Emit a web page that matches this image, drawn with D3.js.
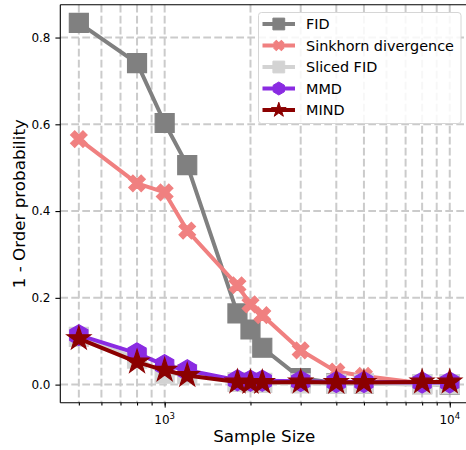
<!DOCTYPE html>
<html>
<head>
<meta charset="utf-8">
<script src="https://cdn.jsdelivr.net/npm/d3@7"></script>
<style>
  body { margin: 0; background: #fff; }
  svg { display: block; font-family: "DejaVu Sans", sans-serif; }
</style>
</head>
<body>
<svg id="chart" width="466" height="450"></svg>
<script>
const SAMPLE_SIZES = [500, 800, 1000, 1200, 1800, 2000, 2200, 3000, 4000, 5000, 8000, 10000];

const FID        = [0.834, 0.741, 0.603, 0.506, 0.164, 0.127, 0.085, 0.015, 0.003, 0.002, 0.001, 0.000];
const SINKHORN   = [0.566, 0.464, 0.443, 0.355, 0.229, 0.185, 0.160, 0.079, 0.030, 0.020, 0.003, 0.003];
const SLICED_FID = [0.110, 0.060, 0.025, 0.024, 0.006, 0.005, 0.004, 0.003, 0.002, 0.002, 0.001, 0.001];
const MMD        = [0.114, 0.072, 0.045, 0.033, 0.010, 0.009, 0.009, 0.008, 0.006, 0.006, 0.005, 0.005];
const MIND       = [0.106, 0.052, 0.033, 0.021, 0.006, 0.005, 0.005, 0.006, 0.005, 0.005, 0.006, 0.006];

const SERIES_NAMES = ['FID', 'Sinkhorn divergence', 'Sliced FID', 'MMD', 'MIND'];
const X_MAJOR_TICKS = [1000, 10000];
const X_MAJOR_LABELS = [3, 4];
const Y_TICKS = [0.0, 0.2, 0.4, 0.6, 0.8];

const SERIES = [
  { name: SERIES_NAMES[0], values: FID, color: '#808080', marker: 'square' },
  { name: SERIES_NAMES[1], values: SINKHORN, color: '#f08080', marker: 'x' },
  { name: SERIES_NAMES[2], values: SLICED_FID, color: '#d3d3d3', marker: 'square' },
  { name: SERIES_NAMES[3], values: MMD, color: '#8a2be2', marker: 'hexagon' },
  { name: SERIES_NAMES[4], values: MIND, color: '#8b0000', marker: 'star' },
];

const LEFT = 60.3, RIGHT = 468.3, TOP = 4.7, BOTTOM = 402.7;
const LINE_WIDTH = 4;
const GRID_COLOR = '#cbcbcb';
const FONT = '"DejaVu Sans", sans-serif';

const svg = d3.select('#chart');

// matplotlib style 5% margins
const logExt = d3.extent(SAMPLE_SIZES).map(Math.log10);
const lpad = (logExt[1] - logExt[0]) * 0.05;
const x = d3.scaleLog()
  .domain([Math.pow(10, logExt[0] - lpad), Math.pow(10, logExt[1] + lpad)])
  .range([LEFT, RIGHT]);

const allValues = SERIES.flatMap(s => s.values);
const yExt = d3.extent(allValues);
const ypad = (yExt[1] - yExt[0]) * 0.05;
const y = d3.scaleLinear()
  .domain([yExt[0] - ypad, yExt[1] + ypad])
  .range([BOTTOM, TOP]);

const hexagonPath = (r) => {
  const pts = d3.range(6).map(i => {
    const a = Math.PI / 2 + i * Math.PI / 3;
    return [r * Math.cos(a), -r * Math.sin(a)];
  });
  return 'M' + pts.map(p => p.join(',')).join('L') + 'Z';
};

const markerPath = (type, scale) => {
  if (type === 'square') return d3.symbol(d3.symbolSquare, Math.pow(19 * scale, 2))();
  if (type === 'x') return d3.symbol(d3.symbolCross, 5 * Math.pow(17.5 * scale / 3, 2))();
  if (type === 'hexagon') return hexagonPath(10.5 * scale);
  if (type === 'star') return d3.symbol(d3.symbolStar, Math.pow(12.5 * scale, 2) / 0.8908130915292852)();
};
const markerRotate = (type) => type === 'x' ? 45 : 0;

// clip region
svg.append('defs').append('clipPath').attr('id', 'plot-clip')
  .append('rect')
  .attr('x', LEFT).attr('y', TOP)
  .attr('width', RIGHT - LEFT).attr('height', BOTTOM - TOP);

// grid
const xMinor = [];
for (let dec = 100; dec <= 10000; dec *= 10) {
  for (let k = 1; k < 10; k++) {
    const v = dec * k;
    if (v >= x.domain()[0] && v <= x.domain()[1]) xMinor.push(v);
  }
}

const grid = svg.append('g').attr('id', 'grid');
grid.selectAll('line.vgrid')
  .data(xMinor)
  .join('line')
  .attr('class', 'vgrid')
  .attr('x1', d => x(d)).attr('x2', d => x(d))
  .attr('y1', TOP).attr('y2', BOTTOM)
  .attr('stroke', GRID_COLOR)
  .attr('stroke-width', 2)
  .attr('stroke-dasharray', '7.7,3.3');

grid.selectAll('line.hgrid')
  .data(Y_TICKS)
  .join('line')
  .attr('class', 'hgrid')
  .attr('y1', d => y(d)).attr('y2', d => y(d))
  .attr('x1', LEFT).attr('x2', RIGHT)
  .attr('stroke', GRID_COLOR)
  .attr('stroke-width', 2)
  .attr('stroke-dasharray', '7.7,3.3');

// series
const plot = svg.append('g').attr('clip-path', 'url(#plot-clip)');
const line = d3.line()
  .x((d, i) => x(SAMPLE_SIZES[i]))
  .y(d => y(d));

SERIES.forEach((s) => {
  const g = plot.append('g').attr('class', 'series');
  g.append('path')
    .datum(s.values)
    .attr('d', line)
    .attr('fill', 'none')
    .attr('stroke', s.color)
    .attr('stroke-width', LINE_WIDTH)
    .attr('stroke-linejoin', 'round');
  g.selectAll('path.marker')
    .data(s.values)
    .join('path')
    .attr('class', 'marker')
    .attr('d', markerPath(s.marker, 1))
    .attr('transform', (d, i) => `translate(${x(SAMPLE_SIZES[i])},${y(d)}) rotate(${markerRotate(s.marker)})`)
    .attr('fill', s.color)
    .attr('stroke', s.color)
    .attr('stroke-width', 1.2)
    .attr('stroke-linejoin', 'miter');
});

// axes
const yAxis = svg.append('g')
  .attr('transform', `translate(${LEFT},0)`)
  .call(d3.axisLeft(y).tickValues(Y_TICKS).tickFormat(d3.format('.1f')).tickSize(4.9).tickPadding(4.9));

const xAxis = svg.append('g')
  .attr('transform', `translate(0,${BOTTOM})`)
  .call(d3.axisBottom(x).tickValues(xMinor).tickFormat('').tickSize(2.8));

svg.append('g')
  .attr('transform', `translate(0,${BOTTOM})`)
  .call(d3.axisBottom(x).tickValues(X_MAJOR_TICKS).tickFormat('').tickSize(4.9))
  .call(g => g.select('.domain').remove());

[yAxis, xAxis].forEach(a => {
  a.attr('font-family', FONT);
  a.select('.domain').attr('stroke', '#000').attr('stroke-width', 1.1);
  a.selectAll('.tick line').attr('stroke', '#000').attr('stroke-width', 1.1);
  a.selectAll('.tick text').attr('font-size', 12).attr('fill', '#000');
});
yAxis.select('.domain').attr('d', `M0,${BOTTOM}V${TOP}`);
xAxis.select('.domain').attr('d', `M${LEFT},0H${RIGHT}`);

// top spine
svg.append('line')
  .attr('x1', LEFT).attr('x2', RIGHT)
  .attr('y1', TOP).attr('y2', TOP)
  .attr('stroke', '#000').attr('stroke-width', 1.1);

// x major labels 10^n
const xLabels = svg.append('g').attr('font-size', 12);
X_MAJOR_TICKS.forEach((t, i) => {
  const txt = xLabels.append('text')
    .attr('x', x(t))
    .attr('y', BOTTOM + 21.5)
    .attr('text-anchor', 'middle');
  txt.append('tspan').text('10');
  txt.append('tspan').attr('font-size', 8.5).attr('dy', -5).text(X_MAJOR_LABELS[i]);
});

// axis labels
svg.append('text')
  .attr('x', (LEFT + RIGHT) / 2)
  .attr('y', 442)
  .attr('text-anchor', 'middle')
  .attr('font-size', 16.7)
  .text('Sample Size');

svg.append('text')
  .attr('transform', `translate(25,${(TOP + BOTTOM) / 2}) rotate(-90)`)
  .attr('text-anchor', 'middle')
  .attr('font-size', 16.7)
  .text('1 - Order probability');

// legend
const legend = svg.append('g').attr('transform', 'translate(258.5,12.5)');
legend.append('rect')
  .attr('width', 202.5)
  .attr('height', 111)
  .attr('rx', 3)
  .attr('fill', '#fff')
  .attr('fill-opacity', 0.85)
  .attr('stroke', '#d6d6d6')
  .attr('stroke-width', 1);

const items = legend.selectAll('g.item')
  .data(SERIES)
  .join('g')
  .attr('class', 'item')
  .attr('transform', (d, i) => `translate(0,${11.5 + i * 21.5})`);

items.append('line')
  .attr('x1', 4).attr('x2', 36.5)
  .attr('stroke', d => d.color)
  .attr('stroke-width', LINE_WIDTH);

items.append('path')
  .attr('d', d => markerPath(d.marker, 0.62))
  .attr('transform', d => `translate(20.3,0) rotate(${markerRotate(d.marker)})`)
  .attr('fill', d => d.color)
  .attr('stroke', d => d.color)
  .attr('stroke-width', 1);

items.append('text')
  .attr('x', 47.5)
  .attr('dy', '0.36em')
  .attr('font-size', 14.4)
  .text(d => d.name);
</script>
</body>
</html>
